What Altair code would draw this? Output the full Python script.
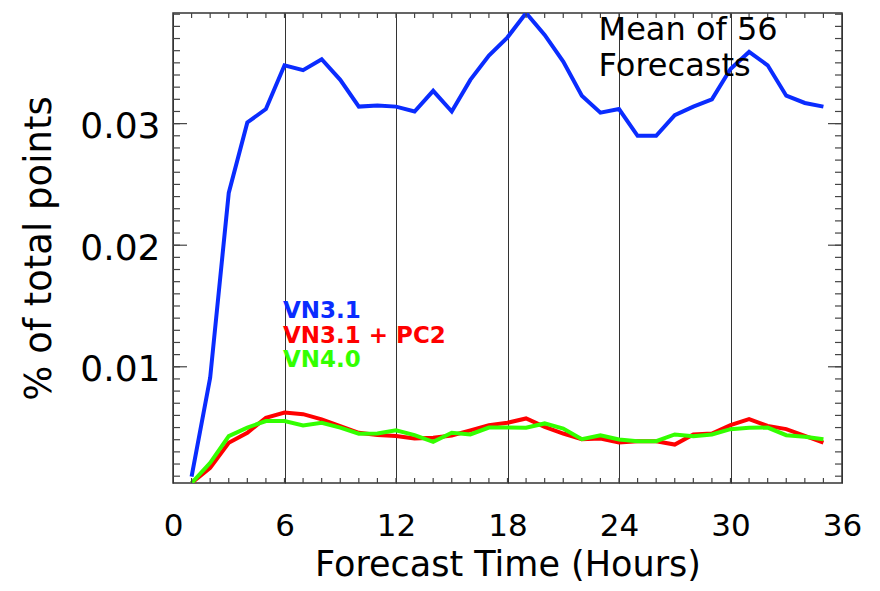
import altair as alt
import pandas as pd

# ---- data ----
hours = list(range(1, 36))
vn31 = [0.00096, 0.0091, 0.0243, 0.0301, 0.0312, 0.0348, 0.0344, 0.0353, 0.0336, 0.0314,
        0.0315, 0.0314, 0.0310, 0.0327, 0.0310, 0.0336, 0.0356, 0.0371, 0.0391, 0.0373,
        0.0351, 0.0323, 0.0309, 0.0312, 0.0290, 0.0290, 0.0307, 0.0314, 0.0320, 0.0345,
        0.0359, 0.0348, 0.0323, 0.0317, 0.0314]
vn31_pc2 = [0.00044, 0.00168, 0.00375, 0.00457, 0.00581, 0.00623, 0.0061, 0.00567, 0.00512, 0.00457,
            0.00438, 0.0043, 0.0041, 0.00416, 0.00435, 0.00477, 0.0052, 0.0054, 0.00575, 0.00506,
            0.00451, 0.00404, 0.0041, 0.00377, 0.00388, 0.00388, 0.0036, 0.00443, 0.00451, 0.0052,
            0.00569, 0.00514, 0.00487, 0.00432, 0.00377]
vn40 = [0.00044, 0.0021, 0.0043, 0.005, 0.00554, 0.00554, 0.00518, 0.0054, 0.005, 0.00449,
        0.00452, 0.00477, 0.00438, 0.00383, 0.00457, 0.00444, 0.005, 0.005, 0.00498, 0.00534,
        0.00492, 0.00404, 0.00437, 0.00402, 0.00388, 0.00388, 0.00443, 0.00429, 0.00443, 0.00487,
        0.00498, 0.005, 0.00437, 0.00424, 0.00404]

series_names = ["VN3.1", "VN3.1 + PC2", "VN4.0"]
series_colors = ["#0a2cff", "#ff0000", "#33ff00"]

x_major = [0, 6, 12, 18, 24, 30, 36]
x_minor = list(range(1, 36))
y_major = [0.01, 0.02, 0.03]
y_minor = [round(i * 0.001, 3) for i in range(1, 40)]
y_domain = [0.00044, 0.0391]

legend_x = [5.92, 5.92, 5.92]
legend_y = [0.01399, 0.01198, 0.0100]
note_lines = ["Mean of 56", "Forecasts"]
note_x = [22.9, 22.9]
note_y = [0.03688, 0.03392]

FONT = "DejaVu Sans"
W, H = 669, 470

df = pd.DataFrame({"h": hours * 3,
                   "v": vn31 + vn31_pc2 + vn40,
                   "s": [series_names[0]] * 35 + [series_names[1]] * 35 + [series_names[2]] * 35})

xscale = alt.Scale(domain=[0, 36], nice=False, zero=False)
yscale = alt.Scale(domain=y_domain, nice=False, zero=False)

xaxis = alt.Axis(values=x_major, format="d", title="Forecast Time (Hours)",
                 labelFont=FONT, labelFontSize=31, labelColor="black",
                 labelBaseline="alphabetic", labelPadding=52, labelFlush=False,
                 labelOverlap=False, ticks=False, domain=False,
                 grid=True, gridColor="#333333", gridWidth=1,
                 titleFont=FONT, titleFontSize=35, titleFontWeight="normal", titleColor="black",
                 titleBaseline="alphabetic", titleY=92)
yaxis = alt.Axis(values=y_major, format=".2f", title="% of total points",
                 labelFont=FONT, labelFontSize=36, labelColor="black",
                 labelBaseline="alphabetic", labelOffset=14, labelPadding=13, labelFlush=False,
                 labelOverlap=False, ticks=False, domain=False, grid=False,
                 titleFont=FONT, titleFontSize=37, titleFontWeight="normal", titleColor="black",
                 titleAngle=270, titleAlign="center", titleBaseline="alphabetic",
                 titleX=-123, titleY=235)

base = alt.Chart(df)

lines = []
for name, col in zip(series_names, series_colors):
    lines.append(
        base.transform_filter(alt.datum.s == name)
        .mark_line(color=col, strokeWidth=4, clip=True, strokeJoin="miter")
        .encode(x=alt.X("h:Q", scale=xscale, axis=xaxis),
                y=alt.Y("v:Q", scale=yscale, axis=yaxis))
    )

# inward tick marks
xt = pd.DataFrame({"h": x_minor})
ytm = pd.DataFrame({"v": y_minor})
ytM = pd.DataFrame({"v": y_major})
tick_style = dict(color="#444444", strokeWidth=1.2)
ticks = [
    alt.Chart(xt).mark_rule(**tick_style).encode(x=alt.X("h:Q", scale=xscale), y=alt.value(H), y2=alt.value(H - 5)),
    alt.Chart(xt).mark_rule(**tick_style).encode(x=alt.X("h:Q", scale=xscale), y=alt.value(0), y2=alt.value(5)),
    alt.Chart(ytm).mark_rule(**tick_style).encode(y=alt.Y("v:Q", scale=yscale), x=alt.value(0), x2=alt.value(7)),
    alt.Chart(ytm).mark_rule(**tick_style).encode(y=alt.Y("v:Q", scale=yscale), x=alt.value(W), x2=alt.value(W - 7)),
    alt.Chart(ytM).mark_rule(**tick_style).encode(y=alt.Y("v:Q", scale=yscale), x=alt.value(0), x2=alt.value(14)),
    alt.Chart(ytM).mark_rule(**tick_style).encode(y=alt.Y("v:Q", scale=yscale), x=alt.value(W), x2=alt.value(W - 14)),
]

leg_df = pd.DataFrame({"t": series_names, "x": legend_x, "y": legend_y})
legend = alt.Chart(leg_df).mark_text(font=FONT, fontSize=23, fontWeight="bold",
                                     align="left", baseline="alphabetic").encode(
    x=alt.X("x:Q", scale=xscale), y=alt.Y("y:Q", scale=yscale), text="t:N",
    color=alt.Color("t:N", scale=alt.Scale(domain=series_names, range=series_colors), legend=None))

note_df = pd.DataFrame({"t": note_lines, "x": note_x, "y": note_y})
note = alt.Chart(note_df).mark_text(font=FONT, fontSize=32, color="black",
                                    align="left", baseline="alphabetic").encode(
    x=alt.X("x:Q", scale=xscale), y=alt.Y("y:Q", scale=yscale), text="t:N")

chart = alt.layer(*lines, *ticks, legend, note).properties(
    width=W, height=H,
    autosize=alt.AutoSizeParams(type="none"),
    padding={"left": 165, "top": 5, "right": 30, "bottom": 100},
).configure_view(stroke="#333333", strokeWidth=1.5)

chart.save("out.html", embed_options={"renderer": "svg", "actions": False})
